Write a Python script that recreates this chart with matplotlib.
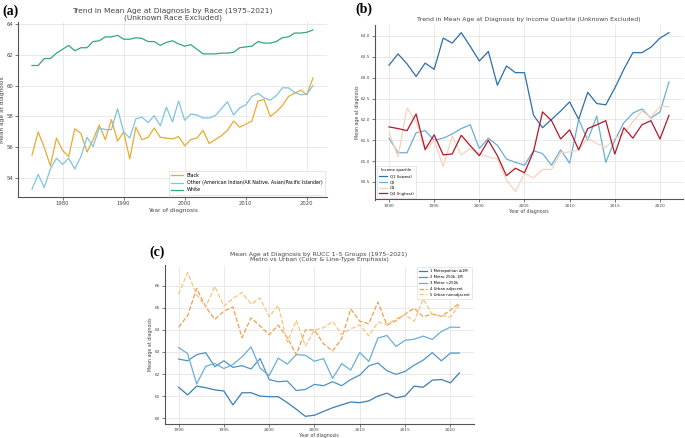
import matplotlib
matplotlib.use("Agg")
import matplotlib.pyplot as plt

# ---------------- data ----------------
years_a = list(range(1975, 2022))
black = [55.5, 57.0, 56.0, 54.8, 56.6, 55.8, 55.4, 57.2, 56.9, 55.7,
         56.5, 57.45, 56.5, 57.8, 56.4, 57.0, 55.25, 57.3, 56.5, 56.65,
         57.25, 56.65, 56.6, 56.55, 56.7, 56.1, 56.5, 56.6, 57.1, 56.25,
         56.5, 56.75, 57.1, 57.7, 57.3, 57.5, 57.7, 59.0, 59.1, 58.0,
         58.3, 58.7, 59.3, 59.5, 59.7, 59.4, 60.5]
other = [53.3, 54.25, 53.4, 54.6, 55.3, 54.9, 55.3, 54.6, 55.4, 56.65,
         56.05, 57.25, 57.15, 57.15, 58.5, 57.0, 56.6, 57.85, 57.95, 57.6,
         58.05, 57.4, 58.6, 57.65, 59.0, 57.75, 58.15, 58.1, 57.9, 57.9,
         58.05, 58.5, 58.95, 58.1, 58.55, 58.75, 59.3, 59.5, 59.2, 59.05,
         59.35, 59.85, 59.85, 59.55, 59.4, 59.45, 60.0]
white = [61.3, 61.3, 61.75, 61.75, 62.1, 62.35, 62.6, 62.25, 62.45, 62.45,
         62.85, 62.9, 63.15, 63.15, 63.25, 63.0, 63.0, 63.1, 63.05, 62.85,
         62.85, 62.6, 62.8, 62.9, 62.7, 62.55, 62.65, 62.35, 62.05, 62.05,
         62.05, 62.1, 62.1, 62.15, 62.45, 62.5, 62.55, 62.85, 62.75, 62.75,
         62.85, 63.1, 63.15, 63.4, 63.4, 63.45, 63.6]
race_labels = ["Black", "Other (American Indian/AK Native, Asian/Pacific Islander)", "White"]

years_b = list(range(1990, 2022))
q1 = [63.3, 63.57, 63.33, 63.03, 63.35, 63.2, 63.95, 63.83, 64.08, 63.75,
      63.4, 63.63, 62.82, 63.28, 63.12, 63.12, 62.1, 61.8, 62.0, 62.2,
      62.42, 62.0, 62.65, 62.38, 62.35, 62.75, 63.2, 63.6, 63.6, 63.73,
      63.95, 64.08]
q2 = [61.55, 61.2, 61.2, 61.68, 61.73, 61.5, 61.55, 61.65, 61.78, 61.87,
      61.3, 61.55, 61.38, 61.05, 60.97, 60.9, 61.25, 61.18, 60.9, 61.27,
      60.95, 62.0, 61.5, 62.08, 60.97, 61.5, 61.92, 62.15, 62.25, 62.03,
      62.18, 62.9]
q3 = [61.7, 61.1, 62.27, 61.95, 61.25, 61.5, 60.87, 61.6, 61.15, 61.3,
      61.18, 61.1, 61.05, 60.55, 60.27, 60.7, 60.6, 60.8, 60.8, 61.2,
      61.22, 61.27, 61.55, 61.42, 61.33, 61.55, 61.65, 61.95, 62.2, 62.05,
      62.32, 62.3]
q4 = [61.82, 61.78, 61.73, 62.13, 61.28, 61.63, 61.15, 61.17, 61.62, 61.37,
      61.13, 61.5, 61.13, 60.65, 60.83, 60.72, 61.23, 62.18, 61.97, 61.53,
      61.75, 61.27, 61.78, 61.87, 61.97, 61.17, 61.8, 61.55, 61.87, 61.97,
      61.53, 62.1]
quartile_labels = ["Q1 (lowest)", "Q2", "Q3", "Q4 (highest)"]

years_c = list(range(1990, 2022))
rucc1 = [61.4, 61.05, 61.45, 61.38, 61.28, 61.23, 60.6, 61.15, 61.15, 61.0,
         60.97, 60.97, 60.7, 60.4, 60.08, 60.13, 60.3, 60.47, 60.6, 60.73,
         60.7, 60.78, 61.0, 61.13, 60.92, 61.0, 61.45, 61.4, 61.72, 61.75,
         61.6, 62.05]
rucc2 = [62.68, 62.6, 62.88, 62.97, 62.33, 62.6, 62.3, 62.38, 62.23, 62.7,
         61.75, 61.65, 61.68, 61.25, 61.3, 61.53, 61.47, 61.65, 61.47, 61.75,
         61.95, 62.37, 62.5, 62.15, 61.98, 62.12, 62.4, 62.63, 62.97, 62.6,
         62.95, 62.95]
rucc3 = [63.2, 62.93, 61.55, 62.35, 62.48, 62.25, 62.43, 62.78, 63.23, 62.27,
         61.93, 62.72, 62.45, 62.88, 62.85, 62.58, 62.7, 61.8, 62.47, 62.18,
         62.98, 62.57, 63.63, 63.75, 63.25, 63.53, 63.58, 63.72, 63.57, 63.93,
         64.13, 64.12]
rucc4 = [64.12, 64.65, 65.88, 65.05, 64.48, 64.85, 65.05, 63.65, 64.55, 64.18,
         63.78, 64.22, 63.65, 62.88, 64.0, 64.0, 63.37, 63.05, 63.6, 64.95,
         64.4, 64.28, 65.27, 64.22, 64.42, 64.72, 64.98, 64.6, 64.72, 64.62,
         64.9, 65.22]
rucc5 = [65.62, 66.6, 65.6, 65.05, 65.98, 65.08, 65.43, 65.7, 65.17, 65.45,
         64.6, 65.12, 63.45, 64.43, 63.27, 64.0, 64.1, 64.38, 63.8, 64.05,
         64.23, 63.73, 64.35, 64.25, 64.5, 64.7, 64.4, 65.4, 64.7, 64.65,
         64.58, 65.15]
rucc_labels = ["1 Metropolitan \u22651M", "2 Metro 250k\u20131M", "3 Metro <250k",
               "4 Urban adjacent", "5 Urban nonadjacent"]

# ---------------- figure ----------------
W, H = 685, 438
fig = plt.figure(figsize=(W / 100, H / 100), dpi=100)
fig.patch.set_facecolor("white")

TXT = "#444444"


def px_axes(l, t, r, b):
    return fig.add_axes([l / W, 1 - b / H, (r - l) / W, (b - t) / H])


def style(ax, tick_fs):
    ax.grid(True, color="#e6e6e6", linewidth=0.6)
    ax.set_axisbelow(True)
    for s in ["top", "right"]:
        ax.spines[s].set_visible(False)
    for s in ["left", "bottom"]:
        ax.spines[s].set_color("#555555")
        ax.spines[s].set_linewidth(0.8)
    ax.tick_params(labelsize=tick_fs, colors=TXT, length=2, width=0.5, pad=1.2)


# ---- panel a ----
axa = px_axes(18, 22, 327, 197)
style(axa, 3.8)
axa.plot(years_a, black, color="#e8ac30", lw=0.9, label=race_labels[0])
axa.plot(years_a, other, color="#7fc3e3", lw=0.9, label=race_labels[1])
axa.plot(years_a, white, color="#33a77f", lw=0.9, label=race_labels[2])
axa.set_yticks([54, 56, 58, 60, 62, 64])
axa.set_xticks([1980, 1990, 2000, 2010, 2020])
axa.set_title("Trend in Mean Age at Diagnosis by Race (1975\u20132021)\n(Unknown Race Excluded)",
              fontsize=5.4, color=TXT, pad=2, linespacing=1.05)
axa.set_xlabel("Year of diagnosis", fontsize=4.2, color=TXT, labelpad=1)
axa.set_ylabel("Mean age at diagnosis", fontsize=4.2, color=TXT, labelpad=1)
axa.legend(loc="lower right", fontsize=3.4, frameon=True, framealpha=1,
           edgecolor="#dddddd", handlelength=2.4, borderpad=0.5, labelspacing=0.45,
           fancybox=False).get_frame().set_linewidth(0.5)

# ---- panel b ----
axb = px_axes(375, 24.7, 683, 199.5)
style(axb, 3.1)
axb.plot(years_b, q1, color="#2c6fab", lw=0.9, label=quartile_labels[0])
axb.plot(years_b, q2, color="#6aaed6", lw=0.9, label=quartile_labels[1])
axb.plot(years_b, q3, color="#f7d3bd", lw=0.9, label=quartile_labels[2])
axb.plot(years_b, q4, color="#b2182b", lw=0.9, label=quartile_labels[3])
axb.set_yticks([60.5, 61.0, 61.5, 62.0, 62.5, 63.0, 63.5, 64.0])
axb.set_yticklabels(["%.1f" % v for v in [60.5, 61.0, 61.5, 62.0, 62.5, 63.0, 63.5, 64.0]])
axb.set_xticks([1990, 1995, 2000, 2005, 2010, 2015, 2020])
axb.set_title("Trend in Mean Age at Diagnosis by Income Quartile (Unknown Excluded)",
              fontsize=4.4, color=TXT, pad=3)
axb.set_xlabel("Year of diagnosis", fontsize=3.4, color=TXT, labelpad=1)
axb.set_ylabel("Mean age at diagnosis", fontsize=3.4, color=TXT, labelpad=1)
lg = axb.legend(loc="lower left", fontsize=2.7, title="Income quartile", title_fontsize=2.7,
                frameon=True, framealpha=1, edgecolor="#dddddd", handlelength=2.2,
                borderpad=0.5, labelspacing=0.5, fancybox=False)
lg.get_frame().set_linewidth(0.5)

# ---- panel c ----
axc = px_axes(164.5, 265.5, 473.5, 423.5)
style(axc, 3.1)
axc.plot(years_c, rucc1, color="#3a7db5", lw=0.9, label=rucc_labels[0])
axc.plot(years_c, rucc2, color="#4f93c4", lw=0.9, label=rucc_labels[1])
axc.plot(years_c, rucc3, color="#6aaed6", lw=0.9, label=rucc_labels[2])
axc.plot(years_c, rucc4, color="#f0a04b", lw=0.9, ls="--", label=rucc_labels[3])
axc.plot(years_c, rucc5, color="#f8c47e", lw=0.9, ls="--", label=rucc_labels[4])
axc.set_yticks([60, 61, 62, 63, 64, 65, 66])
axc.set_xticks([1990, 1995, 2000, 2005, 2010, 2015, 2020])
axc.set_title("Mean Age at Diagnosis by RUCC 1\u20135 Groups (1975\u20132021)\nMetro vs Urban (Color & Line-Type Emphasis)",
              fontsize=4.4, color=TXT, pad=3, linespacing=1.05)
axc.set_xlabel("Year of diagnosis", fontsize=3.4, color=TXT, labelpad=0.5)
axc.set_ylabel("Mean age at diagnosis", fontsize=3.4, color=TXT, labelpad=1)
lg = axc.legend(loc="upper right", fontsize=2.7, frameon=True, framealpha=1,
                edgecolor="#dddddd", handlelength=2.2, borderpad=0.5, labelspacing=0.5,
                fancybox=False)
lg.get_frame().set_linewidth(0.5)

# ---- panel letters ----
lab_kw = dict(fontsize=10, fontweight="bold", family=["Liberation Serif", "DejaVu Serif"], color="black")
fig.text(2 / W, 1 - 15 / H, "(a)", **lab_kw)
fig.text(355 / W, 1 - 13 / H, "(b)", **lab_kw)
fig.text(149 / W, 1 - 256 / H, "(c)", **lab_kw)

fig.savefig("out.png", dpi=100, facecolor="white")
